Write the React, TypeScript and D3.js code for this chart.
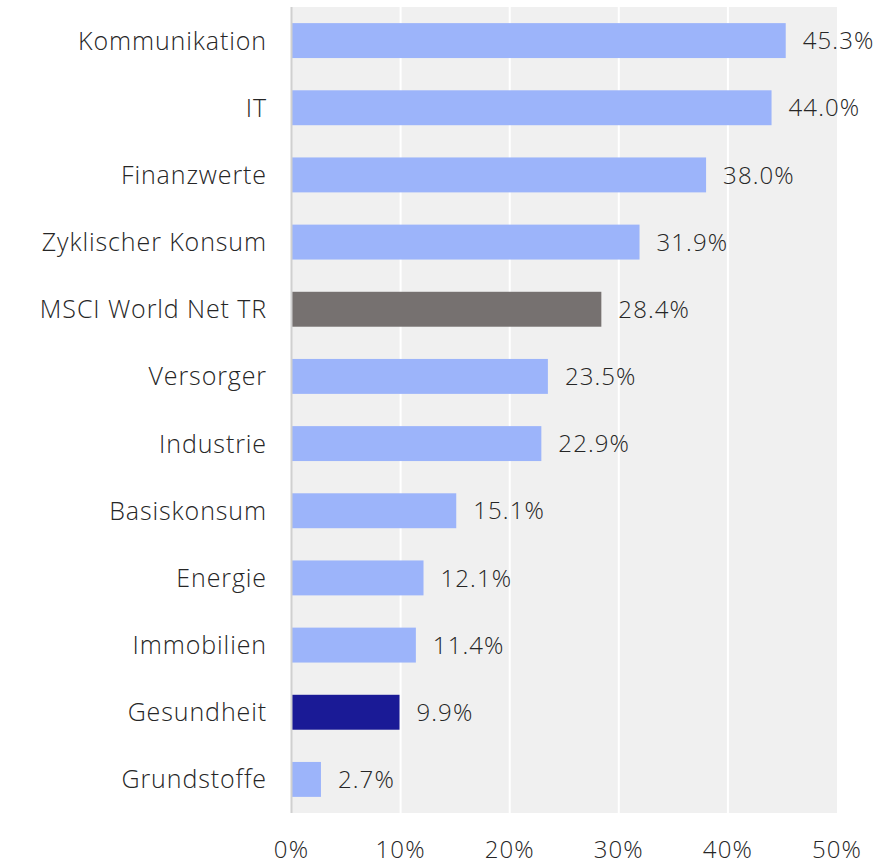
import React from "react";
import * as d3 from "d3";

const categories = ["Kommunikation","IT","Finanzwerte","Zyklischer Konsum","MSCI World Net TR","Versorger","Industrie","Basiskonsum","Energie","Immobilien","Gesundheit","Grundstoffe"];
const values = [45.3,44.0,38.0,31.9,28.4,23.5,22.9,15.1,12.1,11.4,9.9,2.7];
const highlights = ["normal","normal","normal","normal","index","normal","normal","normal","normal","normal","focus","normal"];
const xTicks = [0,10,20,30,40,50];

const colors: Record<string,string> = { normal: "#9cb4fa", index: "#767170", focus: "#1a1a96" };

export default function App() {
  const W = 881, H = 862;
  const left = 291.5, right = 837, top = 7, bottom = 813;
  const x = d3.scaleLinear().domain([0, 50]).range([left, right]);
  const y = d3.scaleBand().domain(categories).range([top, bottom]).paddingInner(0.48).paddingOuter(0.24);
  const font = "'Open Sans', sans-serif";
  const fs = 25;
  const ls = 0.9;
  return (
    <svg width={W} height={H} style={{ position: "absolute", left: 0, top: 0 }} fontFamily={font}>
      <rect x={left} y={top} width={right - left} height={bottom - top} fill="#f0f0f0" />
      {xTicks.slice(1, -1).map(t => (
        <line key={t} x1={x(t)} x2={x(t)} y1={top} y2={bottom} stroke="#ffffff" strokeWidth={2} />
      ))}
      {categories.map((c, i) => (
        <g key={c}>
          <rect x={x(0)} y={y(c)!} width={x(values[i]) - x(0)} height={y.bandwidth()} fill={colors[highlights[i]]} />
          <text x={x(values[i]) + 17} y={y(c)! + y.bandwidth() / 2} dy="0.36em" fontSize={24} letterSpacing={1.1} fontWeight={300} fill="#262626">{values[i].toFixed(1)}%</text>
          <text x={267} y={y(c)! + y.bandwidth() / 2} dy="0.36em" textAnchor="end" fontSize={fs} letterSpacing={ls} fontWeight={300} fill="#262626">{c}</text>
        </g>
      ))}
      <line x1={left} x2={left} y1={top} y2={bottom} stroke="#d0d0d0" strokeWidth={2} />
      {xTicks.map(t => (
        <text key={t} x={x(t)} y={849} dy="0.36em" textAnchor="middle" fontSize={24} letterSpacing={1.1} fontWeight={300} fill="#262626">{t}%</text>
      ))}
    </svg>
  );
}
